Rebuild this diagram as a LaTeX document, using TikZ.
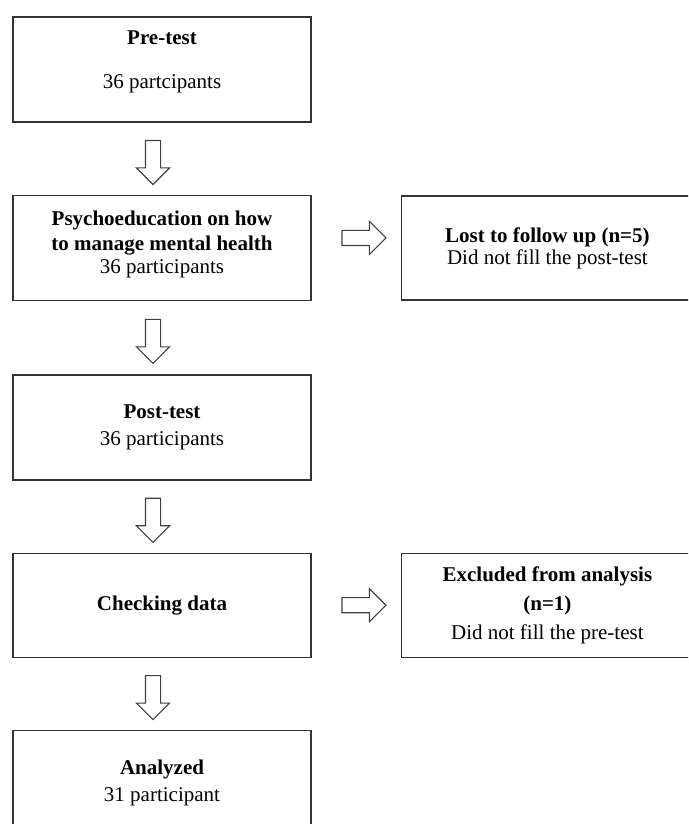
\documentclass[tikz,border=0pt]{standalone}
\usepackage{fontspec}
\setmainfont{Liberation Serif}
\usetikzlibrary{positioning,shapes.arrows,calc}

\begin{document}
\begin{tikzpicture}
                [x=1pt,y=-1pt,node distance=72pt,
                box/.style={draw=black!80,line width=1.4pt,align=center,minimum width=298pt,
                    minimum height=105pt,inner sep=0pt,font=\fontsize{21}{25}\selectfont},
                side/.style={box,minimum width=292pt,minimum height=104pt},
                blk/.style={single arrow,draw=black!75,line width=1.1pt,minimum height=44pt,
                    inner sep=7pt,single arrow head extend=9pt},
                darr/.style={blk,minimum width=33pt,rotate=-90},
                rarr/.style={blk,minimum width=32pt}]
                \clip (0,0) rectangle (688,824);
                \node[box] (pre) at (162,69.5){\textbf{Pre-test}\\[19pt]36 partcipants\\[-6pt]\mbox{}};
                \node[box] (psy)[below=of pre]{\textbf{Psychoeducation on how}\\\textbf{to manage mental health}\\[-2pt]36 participants\\[-14pt]\mbox{}};
                \node[box] (post)[below=73pt of psy]{\textbf{Post-test}\\[2pt]36 participants};
                \node[box,minimum height=104pt] (check)[below=of post]{\textbf{Checking data}};
                \node[box] (ana)[below=of check]{\textbf{Analyzed}\\[2pt]31 participant};
                \node[side] (lost)[right=89pt of psy]{\textbf{Lost to follow up (n=5)}\\[-3pt]Did not fill the post-test};
                \node[side] (excl)[right=89pt of check]{\textbf{Excluded from analysis}\\[4pt]\textbf{(n=1)}\\[4pt]Did not fill the pre-test};
                % block arrows
                \node[darr] (a1) at ($(pre.south)!.5!(psy.north)+(-9,0)$){};
                \node[darr] (a2) at ($(psy.south)!.5!(post.north)+(-9,0)$){};
                \node[darr] (a3) at ($(post.south)!.5!(check.north)+(-9,0)$){};
                \node[darr] (a4) at ($(check.south)!.5!(ana.north)+(-9,0)$){};
                \node[rarr] (r1) at ($(psy.east)!.5!(lost.west)+(4,-10)$){};
                \node[rarr] (r2) at ($(check.east)!.5!(excl.west)+(4,0)$){};
            \end{tikzpicture}
\end{document}
